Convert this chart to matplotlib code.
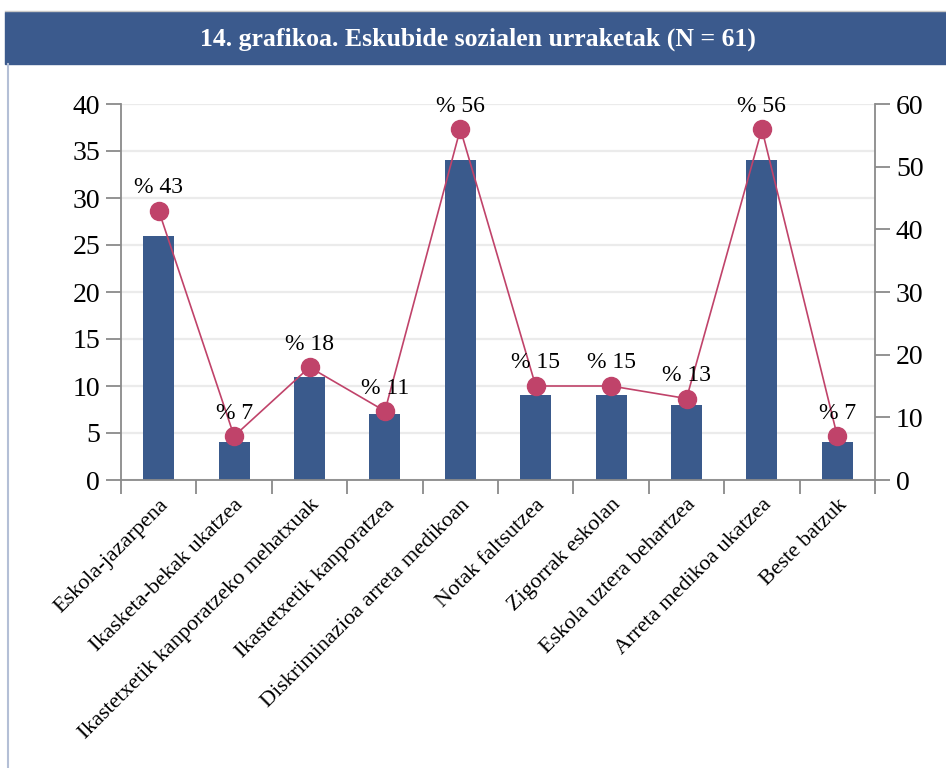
import matplotlib
matplotlib.use('Agg')
import matplotlib.pyplot as plt
from matplotlib.patches import Rectangle
from matplotlib.lines import Line2D
import numpy as np

categories = [
    'Eskola-jazarpena',
    'Ikasketa-bekak ukatzea',
    'Ikastetxetik kanporatzeko mehatxuak',
    'Ikastetxetik kanporatzea',
    'Diskriminazioa arreta medikoan',
    'Notak faltsutzea',
    'Zigorrak eskolan',
    'Eskola uztera behartzea',
    'Arreta medikoa ukatzea',
    'Beste batzuk',
]
counts = [26, 4, 11, 7, 34, 9, 9, 8, 34, 4]
percents = [43, 7, 18, 11, 56, 15, 15, 13, 56, 7]

TITLE = '14. grafikoa. Eskubide sozialen urraketak (N = 61)'
BAR_COLOR = '#3a5a8c'
LINE_COLOR = '#c0436a'
AXIS_COLOR = '#8a8a8a'

plt.rcParams['font.family'] = ['Liberation Serif', 'DejaVu Serif']

fig = plt.figure(figsize=(9.46, 7.68), dpi=100)

# ── frame: title bar + thin left border ──────────────────────────────────────
fig.patches.append(Rectangle((5 / 946, 1 - 64 / 768), 1, 52 / 768,
                             transform=fig.transFigure, color='#3b5a8d', zorder=0))
fig.lines.append(Line2D([8 / 946, 8 / 946], [0, 1 - 64 / 768], transform=fig.transFigure,
                        color='#b4bfd6', linewidth=1.5))
fig.lines.append(Line2D([5 / 946, 1], [1 - 11 / 768, 1 - 11 / 768], transform=fig.transFigure,
                        color='#c8c8c8', linewidth=1))
fig.text(478 / 946, 1 - 39 / 768, TITLE, color='white', fontsize=18.5, fontweight='bold',
         ha='center', va='center')

# ── axes ─────────────────────────────────────────────────────────────────────
ax = fig.add_axes([121 / 946, 1 - 480 / 768, 754 / 946, 376 / 768])
x = np.arange(len(categories))

ax.bar(x, counts, width=0.41, color=BAR_COLOR, zorder=2)
ax.set_xlim(-0.5, len(categories) - 0.5)
ax.set_ylim(0, 40)
ax.set_yticks(range(0, 41, 5))
ax.grid(axis='y', color='#ebebeb', linewidth=1.6, zorder=0)
ax.set_axisbelow(True)

for side in ['top', 'right']:
    ax.spines[side].set_visible(False)
for side in ['left', 'bottom']:
    ax.spines[side].set_color(AXIS_COLOR)
    ax.spines[side].set_linewidth(1.3)

ax.tick_params(axis='y', length=11, width=1.3, color=AXIS_COLOR, labelsize=20, pad=4)
ax.set_xticks(x)
ax.set_xticklabels(categories, rotation=45, ha='right', va='top',
                   rotation_mode='anchor', fontsize=16)
ax.tick_params(axis='x', which='major', length=0, pad=11)
ax.set_xticks(np.arange(-0.5, len(categories), 1), minor=True)
ax.tick_params(axis='x', which='minor', length=10, width=1.3, color=AXIS_COLOR)

# right axis: percentages
ax2 = ax.twinx()
ax2.set_ylim(0, 60)
ax2.set_yticks(range(0, 61, 10))
for side in ['top', 'left', 'bottom']:
    ax2.spines[side].set_visible(False)
ax2.spines['right'].set_color(AXIS_COLOR)
ax2.spines['right'].set_linewidth(1.3)
ax2.tick_params(axis='y', length=11, width=1.3, color=AXIS_COLOR, labelsize=20, pad=4)

ax2.plot(x, percents, color=LINE_COLOR, linewidth=1.2, marker='o',
         markersize=13, markerfacecolor=LINE_COLOR, markeredgecolor=LINE_COLOR, zorder=3)
for xi, p in zip(x, percents):
    ax2.annotate(f'% {p}', (xi, p), xytext=(0, 9), textcoords='offset points',
                 ha='center', va='bottom', fontsize=17)

fig.savefig('out.png', dpi=100)
